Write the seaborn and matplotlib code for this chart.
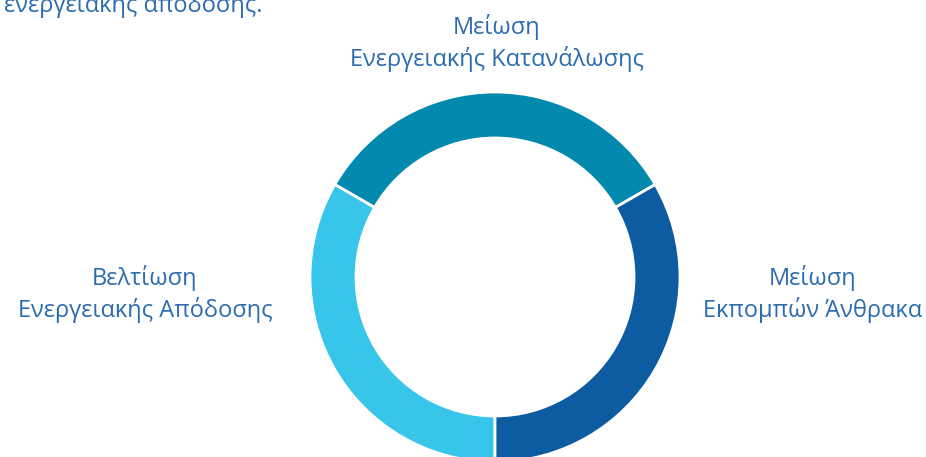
import seaborn as sns
import matplotlib.pyplot as plt

# three equal goals, drawn counterclockwise from 30 degrees
goals = ["Μείωση\nΕνεργειακής Κατανάλωσης",
         "Βελτίωση\nΕνεργειακής Απόδοσης",
         "Μείωση\nΕκπομπών Άνθρακα"]
shares = [1, 1, 1]
colors = ["#0388AE", "#38C5EA", "#0D5BA0"]
intro_tail = "ενεργειακής απόδοσης."

sns.set_theme(style="white")
plt.rcParams["font.family"] = ["Open Sans", "DejaVu Sans"]

W, H = 926, 457
fig = plt.figure(figsize=(W / 100, H / 100), dpi=100)
ax = fig.add_axes([0, 0, 1, 1])
ax.set_xlim(0, W)
ax.set_ylim(0, H)
ax.set_aspect("equal")
ax.axis("off")

ax.pie(shares, colors=colors, startangle=30, counterclock=True,
       radius=185, center=(495, H - 277),
       wedgeprops=dict(width=46, edgecolor="white", linewidth=2))
ax.set_xlim(0, W)
ax.set_ylim(0, H)

txt = "#2B6CB0"
label_pos = [(497, H - 43), (145, H - 294), (813, H - 294)]
for (x, y), lab in zip(label_pos, goals):
    ax.text(x, y, lab, ha="center", va="center", fontsize=17,
            color=txt, linespacing=1.3)

ax.text(4, H - 12, intro_tail, ha="left", va="baseline", fontsize=17,
        color=txt)

fig.savefig("out.png", dpi=100)
